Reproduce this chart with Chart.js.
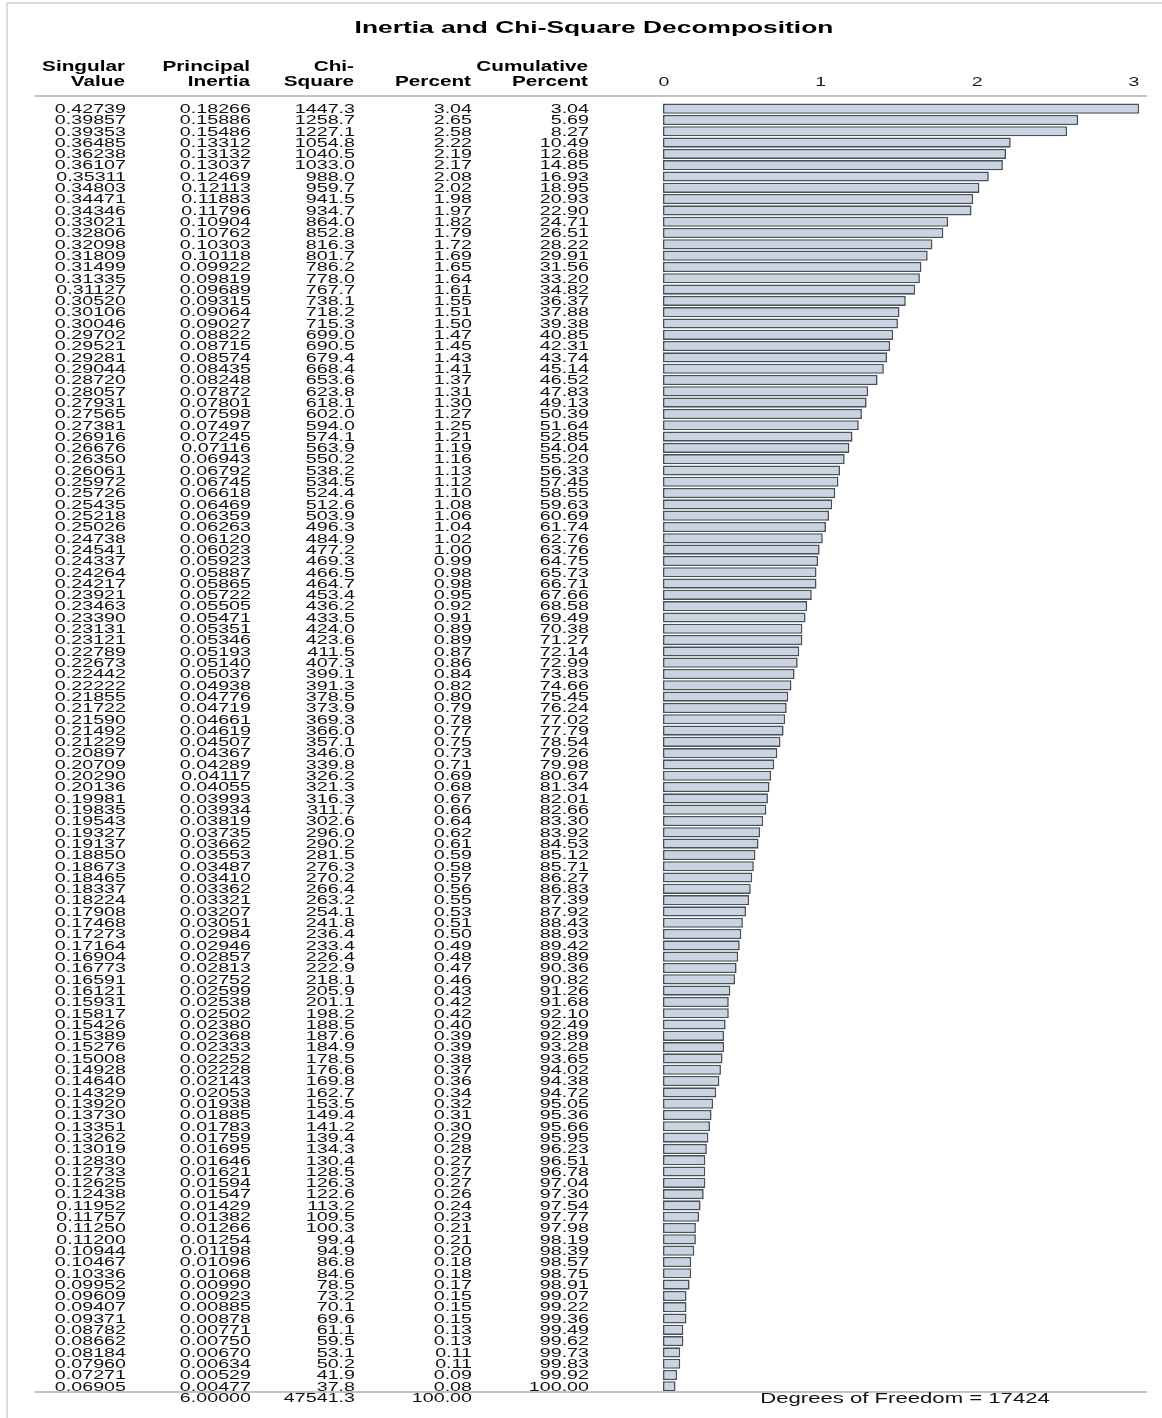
<!DOCTYPE html>
<html>
<head>
<meta charset="utf-8">
<title>Inertia and Chi-Square Decomposition</title>
<script src="https://cdn.jsdelivr.net/npm/chart.js@4.4.1/dist/chart.umd.min.js"></script>
<style>
	html, body { margin: 0; padding: 0; background: #fff; }
	#wrap { position: relative; width: 1162px; height: 1418px; }
</style>
</head>
<body>
<div id="wrap"><canvas id="chart"></canvas></div>
<script>
// table values, one entry per dimension
var singularValue = [
	0.42739, 0.39857, 0.39353, 0.36485, 0.36238, 0.36107, 0.35311, 0.34803, 0.34471, 0.34346,
	0.33021, 0.32806, 0.32098, 0.31809, 0.31499, 0.31335, 0.31127, 0.30520, 0.30106, 0.30046,
	0.29702, 0.29521, 0.29281, 0.29044, 0.28720, 0.28057, 0.27931, 0.27565, 0.27381, 0.26916,
	0.26676, 0.26350, 0.26061, 0.25972, 0.25726, 0.25435, 0.25218, 0.25026, 0.24738, 0.24541,
	0.24337, 0.24264, 0.24217, 0.23921, 0.23463, 0.23390, 0.23131, 0.23121, 0.22789, 0.22673,
	0.22442, 0.22222, 0.21855, 0.21722, 0.21590, 0.21492, 0.21229, 0.20897, 0.20709, 0.20290,
	0.20136, 0.19981, 0.19835, 0.19543, 0.19327, 0.19137, 0.18850, 0.18673, 0.18465, 0.18337,
	0.18224, 0.17908, 0.17468, 0.17273, 0.17164, 0.16904, 0.16773, 0.16591, 0.16121, 0.15931,
	0.15817, 0.15426, 0.15389, 0.15276, 0.15008, 0.14928, 0.14640, 0.14329, 0.13920, 0.13730,
	0.13351, 0.13262, 0.13019, 0.12830, 0.12733, 0.12625, 0.12438, 0.11952, 0.11757, 0.11250,
	0.11200, 0.10944, 0.10467, 0.10336, 0.09952, 0.09609, 0.09407, 0.09371, 0.08782, 0.08662,
	0.08184, 0.07960, 0.07271, 0.06905
];

var principalInertia = [
	0.18266, 0.15886, 0.15486, 0.13312, 0.13132, 0.13037, 0.12469, 0.12113, 0.11883, 0.11796,
	0.10904, 0.10762, 0.10303, 0.10118, 0.09922, 0.09819, 0.09689, 0.09315, 0.09064, 0.09027,
	0.08822, 0.08715, 0.08574, 0.08435, 0.08248, 0.07872, 0.07801, 0.07598, 0.07497, 0.07245,
	0.07116, 0.06943, 0.06792, 0.06745, 0.06618, 0.06469, 0.06359, 0.06263, 0.06120, 0.06023,
	0.05923, 0.05887, 0.05865, 0.05722, 0.05505, 0.05471, 0.05351, 0.05346, 0.05193, 0.05140,
	0.05037, 0.04938, 0.04776, 0.04719, 0.04661, 0.04619, 0.04507, 0.04367, 0.04289, 0.04117,
	0.04055, 0.03993, 0.03934, 0.03819, 0.03735, 0.03662, 0.03553, 0.03487, 0.03410, 0.03362,
	0.03321, 0.03207, 0.03051, 0.02984, 0.02946, 0.02857, 0.02813, 0.02752, 0.02599, 0.02538,
	0.02502, 0.02380, 0.02368, 0.02333, 0.02252, 0.02228, 0.02143, 0.02053, 0.01938, 0.01885,
	0.01783, 0.01759, 0.01695, 0.01646, 0.01621, 0.01594, 0.01547, 0.01429, 0.01382, 0.01266,
	0.01254, 0.01198, 0.01096, 0.01068, 0.00990, 0.00923, 0.00885, 0.00878, 0.00771, 0.00750,
	0.00670, 0.00634, 0.00529, 0.00477
];

var chiSquare = [
	1447.3, 1258.7, 1227.1, 1054.8, 1040.5, 1033.0, 988.0, 959.7, 941.5, 934.7,
	864.0, 852.8, 816.3, 801.7, 786.2, 778.0, 767.7, 738.1, 718.2, 715.3,
	699.0, 690.5, 679.4, 668.4, 653.6, 623.8, 618.1, 602.0, 594.0, 574.1,
	563.9, 550.2, 538.2, 534.5, 524.4, 512.6, 503.9, 496.3, 484.9, 477.2,
	469.3, 466.5, 464.7, 453.4, 436.2, 433.5, 424.0, 423.6, 411.5, 407.3,
	399.1, 391.3, 378.5, 373.9, 369.3, 366.0, 357.1, 346.0, 339.8, 326.2,
	321.3, 316.3, 311.7, 302.6, 296.0, 290.2, 281.5, 276.3, 270.2, 266.4,
	263.2, 254.1, 241.8, 236.4, 233.4, 226.4, 222.9, 218.1, 205.9, 201.1,
	198.2, 188.5, 187.6, 184.9, 178.5, 176.6, 169.8, 162.7, 153.5, 149.4,
	141.2, 139.4, 134.3, 130.4, 128.5, 126.3, 122.6, 113.2, 109.5, 100.3,
	99.4, 94.9, 86.8, 84.6, 78.5, 73.2, 70.1, 69.6, 61.1, 59.5,
	53.1, 50.2, 41.9, 37.8
];

var percent = [
	3.04, 2.65, 2.58, 2.22, 2.19, 2.17, 2.08, 2.02, 1.98, 1.97,
	1.82, 1.79, 1.72, 1.69, 1.65, 1.64, 1.61, 1.55, 1.51, 1.50,
	1.47, 1.45, 1.43, 1.41, 1.37, 1.31, 1.30, 1.27, 1.25, 1.21,
	1.19, 1.16, 1.13, 1.12, 1.10, 1.08, 1.06, 1.04, 1.02, 1.00,
	0.99, 0.98, 0.98, 0.95, 0.92, 0.91, 0.89, 0.89, 0.87, 0.86,
	0.84, 0.82, 0.80, 0.79, 0.78, 0.77, 0.75, 0.73, 0.71, 0.69,
	0.68, 0.67, 0.66, 0.64, 0.62, 0.61, 0.59, 0.58, 0.57, 0.56,
	0.55, 0.53, 0.51, 0.50, 0.49, 0.48, 0.47, 0.46, 0.43, 0.42,
	0.42, 0.40, 0.39, 0.39, 0.38, 0.37, 0.36, 0.34, 0.32, 0.31,
	0.30, 0.29, 0.28, 0.27, 0.27, 0.27, 0.26, 0.24, 0.23, 0.21,
	0.21, 0.20, 0.18, 0.18, 0.17, 0.15, 0.15, 0.15, 0.13, 0.13,
	0.11, 0.11, 0.09, 0.08
];

var cumulativePercent = [
	3.04, 5.69, 8.27, 10.49, 12.68, 14.85, 16.93, 18.95, 20.93, 22.90,
	24.71, 26.51, 28.22, 29.91, 31.56, 33.20, 34.82, 36.37, 37.88, 39.38,
	40.85, 42.31, 43.74, 45.14, 46.52, 47.83, 49.13, 50.39, 51.64, 52.85,
	54.04, 55.20, 56.33, 57.45, 58.55, 59.63, 60.69, 61.74, 62.76, 63.76,
	64.75, 65.73, 66.71, 67.66, 68.58, 69.49, 70.38, 71.27, 72.14, 72.99,
	73.83, 74.66, 75.45, 76.24, 77.02, 77.79, 78.54, 79.26, 79.98, 80.67,
	81.34, 82.01, 82.66, 83.30, 83.92, 84.53, 85.12, 85.71, 86.27, 86.83,
	87.39, 87.92, 88.43, 88.93, 89.42, 89.89, 90.36, 90.82, 91.26, 91.68,
	92.10, 92.49, 92.89, 93.28, 93.65, 94.02, 94.38, 94.72, 95.05, 95.36,
	95.66, 95.95, 96.23, 96.51, 96.78, 97.04, 97.30, 97.54, 97.77, 97.98,
	98.19, 98.39, 98.57, 98.75, 98.91, 99.07, 99.22, 99.36, 99.49, 99.62,
	99.73, 99.83, 99.92, 100.00
];

// totals row and footnote
var totals = ['', '6.00000', '47541.3', '100.00', ''];
var degreesOfFreedom = 17424;

var titleText = 'Inertia and Chi-Square Decomposition';
var headerTop = ['Singular', 'Principal', 'Chi-', '', 'Cumulative'];
var headerBottom = ['Value', 'Inertia', 'Square', 'Percent', 'Percent'];
var xTicks = [0, 1, 2, 3];

var FONT = 'Arial, "Liberation Sans", sans-serif';
// right edges of the five table columns
var colRight = [126, 251, 355, 472, 589];

// draw text stretched horizontally (the reference is wide-set)
function wideText(ctx, txt, x, y, font, sx, align) {
	ctx.save();
	ctx.font = font;
	ctx.textAlign = align;
	ctx.textBaseline = 'alphabetic';
	ctx.translate(x, y);
	ctx.scale(sx, 1);
	ctx.fillText(txt, 0, 0);
	ctx.restore();
}

var tablePlugin = {
	id: 'tablePlugin',
	beforeDraw: function(chart) {
		var ctx = chart.ctx;
		ctx.save();
		ctx.fillStyle = '#fff';
		ctx.fillRect(0, 0, chart.width, chart.height);
		// outer frame (left + top)
		ctx.strokeStyle = '#cfcfcf';
		ctx.lineWidth = 1.5;
		ctx.beginPath();
		ctx.moveTo(7, chart.height);
		ctx.lineTo(7, 3);
		ctx.lineTo(chart.width, 3);
		ctx.stroke();
		ctx.restore();
	},
	afterDraw: function(chart) {
		var ctx = chart.ctx;
		var y = chart.scales.y;
		var x = chart.scales.x;
		var area = chart.chartArea;

		ctx.save();
		ctx.fillStyle = '#000';

		wideText(ctx, titleText, 594, 33, 'bold 17px ' + FONT, 1.55, 'center');

		for (var c = 0; c < 5; c++) {
			if (headerTop[c]) {
				wideText(ctx, headerTop[c], colRight[c] - 1, 71, 'bold 14px ' + FONT, 1.48, 'right');
			}
			wideText(ctx, headerBottom[c], colRight[c] - 1, 86, 'bold 14px ' + FONT, 1.48, 'right');
		}

		// axis tick labels, placed by the x scale
		ctx.fillStyle = '#1a1a1a';
		x.ticks.forEach(function(tk) {
			wideText(ctx, String(tk.value), x.getPixelForValue(tk.value) + 1, 86, '13px ' + FONT, 1.5, 'center');
		});

		// rule lines above and below the rows
		ctx.strokeStyle = '#c4c4c4';
		ctx.lineWidth = 2;
		ctx.beginPath();
		ctx.moveTo(35, 96);
		ctx.lineTo(area.right, 96);
		ctx.moveTo(35, area.bottom);
		ctx.lineTo(area.right, area.bottom);
		ctx.stroke();

		ctx.fillStyle = '#111';
		var dataFont = '12px ' + FONT;
		_rows(function(i) {
			var py = y.getPixelForValue(i) + 4.3;
			wideText(ctx, singularValue[i].toFixed(5), colRight[0], py, dataFont, 1.64, 'right');
			wideText(ctx, principalInertia[i].toFixed(5), colRight[1], py, dataFont, 1.64, 'right');
			wideText(ctx, chiSquare[i].toFixed(1), colRight[2], py, dataFont, 1.64, 'right');
			wideText(ctx, percent[i].toFixed(2), colRight[3], py, dataFont, 1.64, 'right');
			wideText(ctx, cumulativePercent[i].toFixed(2), colRight[4], py, dataFont, 1.64, 'right');
		});

		for (var t = 0; t < totals.length; t++) {
			if (totals[t]) {
				wideText(ctx, totals[t], colRight[t], area.bottom + 10, dataFont, 1.64, 'right');
			}
		}

		wideText(ctx, 'Degrees of Freedom = ' + degreesOfFreedom, (area.left + area.right) / 2, area.bottom + 11,
			'14px ' + FONT, 1.58, 'center');
		ctx.restore();
	}
};

function _rows(fn) {
	for (var i = 0; i < percent.length; i++) {
		fn(i);
	}
}

var ctx = document.getElementById('chart').getContext('2d');
new Chart(ctx, {
	type: 'bar',
	data: {
		labels: singularValue.map(function(v, i) { return String(i + 1); }),
		datasets: [{
			label: 'Percent',
			data: percent,
			backgroundColor: '#c9d3e2',
			borderColor: '#4a5058',
			borderWidth: 1.6,
			borderSkipped: false,
			barPercentage: 0.9,
			categoryPercentage: 1.0
		}]
	},
	options: {
		indexAxis: 'y',
		responsive: true,
		maintainAspectRatio: false,
		animation: false,
		layout: {
			padding: { left: 663, right: 15, top: 73, bottom: 26 }
		},
		plugins: {
			legend: { display: false },
			title: { display: false },
			tooltip: { enabled: false }
		},
		scales: {
			x: {
				position: 'top',
				min: 0,
				max: 3.09,
				afterFit: function(scale) { scale.height = 30; },
				afterBuildTicks: function(scale) {
					scale.ticks = xTicks.map(function(v) { return { value: v }; });
				},
				// labels are drawn stretched by the plugin
				ticks: { display: false },
				grid: { display: false, drawTicks: false },
				border: { display: false }
			},
			y: {
				display: false,
				grid: { display: false }
			}
		}
	},
	plugins: [tablePlugin]
});
</script>
</body>
</html>
